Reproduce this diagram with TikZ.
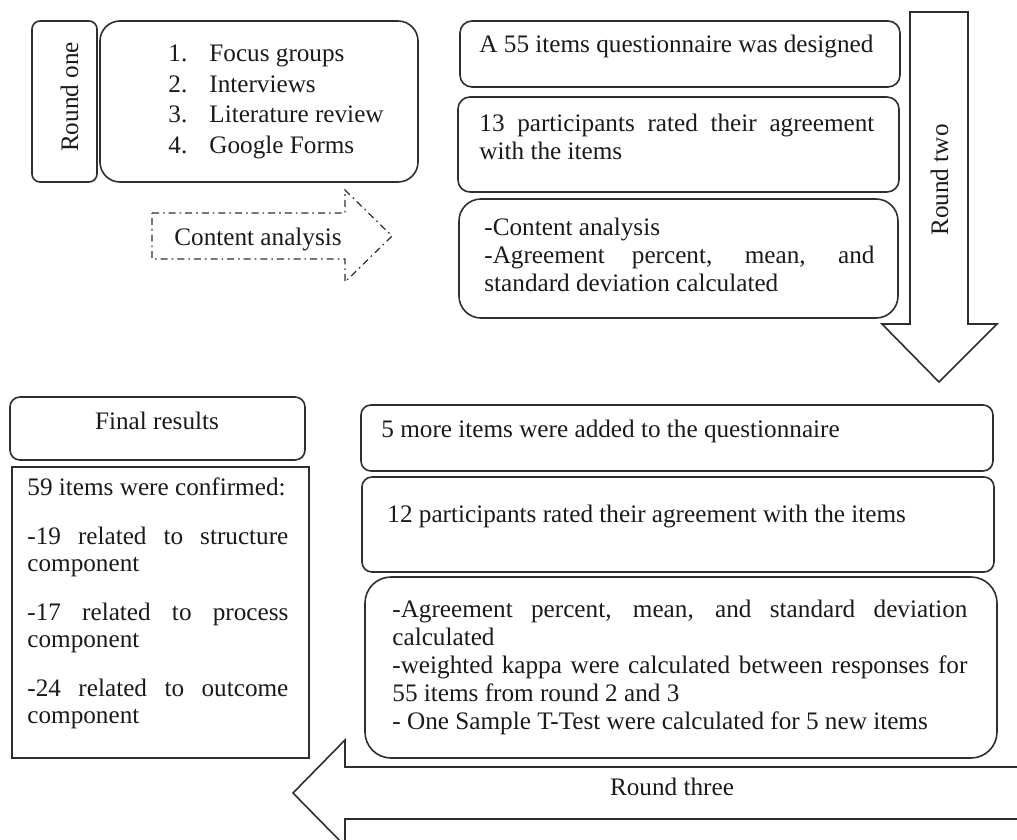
\documentclass[tikz,border=0pt]{standalone}
\usepackage{fontspec}
\setmainfont{Liberation Serif}
\hyphenpenalty=10000
\exhyphenpenalty=10000

\definecolor{linecol}{HTML}{2E2E2E}
\definecolor{textcol}{HTML}{1A1A1A}
\newcommand{\bodyfont}{\fontsize{12.6}{14}\selectfont}

\tikzset{
	rbox/.style={draw=linecol, line width=0.8pt, rounded corners=#1, inner sep=0pt},
	sqbox/.style={draw=linecol, line width=0.8pt, inner sep=0pt},
	size/.style 2 args={minimum width=#1*0.5pt, minimum height=#2*0.5pt},
	txt/.style={inner sep=0pt, anchor=base west, align=justify, text=textcol, font=\bodyfont},
	captxt/.style={inner sep=0pt, anchor=base, text=textcol, font=\bodyfont},
	bigarrow/.style={draw=linecol, line width=0.8pt, line join=miter},
}

\begin{document}
\begin{tikzpicture}[x=0.5pt, y=-0.5pt]
		\useasboundingbox (0,0) rectangle (1017,840);
		\clip (0,0) rectangle (1017,840);
		
		% round one
		\node[rbox=4pt, size={65}{161}] (r1) at (64.5,101.5) {};
		\node[captxt, rotate=90] (r1t) at (78,97) {Round one};
		\node[rbox=10pt, size={318}{161}] (lst) at (259,101.5) {};
		\foreach \i/\item in {1/Focus groups,2/Interviews,3/Literature review,4/Google Forms}
		\node[txt] (num\i) at (168,{31.5+30.5*\i}) {\i.} node[txt] (item\i) at (209,{31.5+30.5*\i}) {\item};
		
		\draw[draw=linecol, line width=0.6pt, dash pattern=on 3.5pt off 2pt on 0.8pt off 2pt]
		(152,213) -- (345,213) -- (345,190) -- (392,236) -- (345,282) -- (345,259) -- (152,259) -- cycle;
		\node[captxt] (cat) at (258,245) {Content analysis};
		
		% round two
		\node[rbox=6pt, size={440}{66}] (q1) at (680,54) {};
		\node[txt] (q1t) at (479,53) {A 55 items questionnaire was designed};
		\node[rbox=6pt, size={441}{95}] (q2) at (678.5,144.5) {};
		\node[txt, text width=197.5pt] (q2t) at (479,132) {13 participants rated their agreement\linebreak with the items};
		\node[rbox=11pt, size={439}{119}] (q3) at (678.5,258.5) {};
		\node[txt, text width=195pt] (q3t) at (484,235) {-Content analysis\\ -Agreement percent, mean, and\linebreak standard deviation calculated};
		
		\draw[bigarrow] (910,12) -- (968,12) -- (968,324) -- (997,324) -- (939,382) -- (882,324) -- (910,324) -- cycle;
		\node[captxt, rotate=90] (r2t) at (948,180) {Round two};
		
		% round three
		\node[rbox=5pt, size={632}{66}] (b1) at (677,438) {};
		\node[txt] (b1t) at (381,437) {5 more items were added to the questionnaire};
		\node[rbox=5pt, size={632}{95}] (b2) at (678,524.5) {};
		\node[txt] (b2t) at (387,522) {12 participants rated their agreement with the items};
		\node[rbox=13pt, size={632}{181}] (b3) at (681,667.5) {};
		\node[txt, text width=287.5pt] (b3t) at (392,617) {-Agreement percent, mean, and standard deviation\linebreak calculated\\ -weighted kappa were calculated between responses for\linebreak 55 items from round 2 and 3\\ - One Sample T-Test were calculated for 5 new items};
		
		\draw[bigarrow] (1030,767) -- (345,767) -- (345,740) -- (293,793) -- (345,846) -- (345,819) -- (1030,819);
		\node[captxt] (r3t) at (672,795) {Round three};
		
		% final results
		\node[rbox=5pt, size={295}{63}] (fin) at (157.5,428.5) {};
		\node[captxt] (fint) at (157,429) {Final results};
		\node[sqbox, size={297}{291}] (res) at (160.5,612.5) {};
		\node[txt, text width=130.5pt, font=\fontsize{12.6}{13.5}\selectfont] (rest) at (27,495) {59 items were confirmed:\\[11pt] -19 related to structure\linebreak component\\[11pt] -17 related to process\linebreak component\\[11pt] -24 related to outcome\linebreak component};
\end{tikzpicture}
\end{document}
